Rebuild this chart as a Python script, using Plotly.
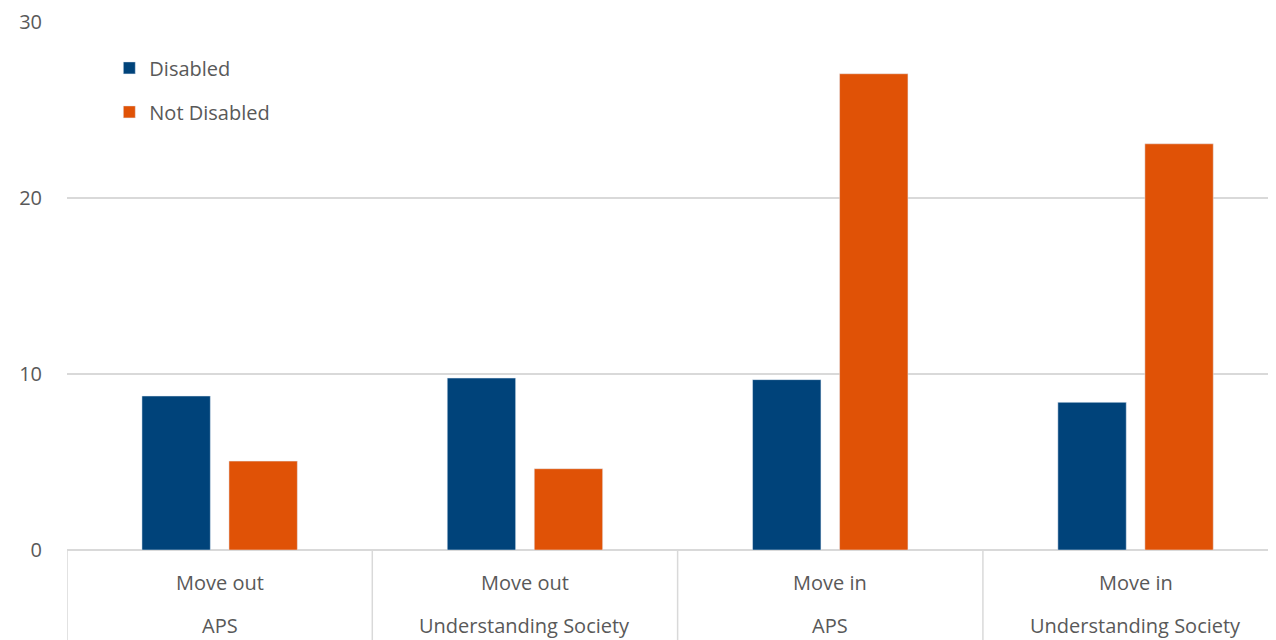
import plotly.graph_objects as go

categories_top = ["Move out", "Move out", "Move in", "Move in"]
categories_bottom = ["APS", "Understanding Society", "APS", "Understanding Society"]
disabled = [8.75, 9.77, 9.68, 8.39]
not_disabled = [5.05, 4.62, 27.06, 23.08]
y_ticks = [0, 10, 20, 30]

FONT = "Open Sans"
FS = 20
TXT = "#595959"
GRID = "#d9d9d9"

xs = list(range(len(categories_top)))

fig = go.Figure()
fig.add_trace(go.Bar(x=xs, y=disabled, name="Disabled", marker=dict(color="#00437A"),
                     legendgroup="a"))
fig.add_trace(go.Bar(x=xs, y=not_disabled, name="Not Disabled", marker=dict(color="#E05206"),
                     legendgroup="b"))

H_PLOT = 528
for i, (t, b) in enumerate(zip(categories_top, categories_bottom)):
    fig.add_annotation(x=i, y=(550 - 582) / H_PLOT, xref="x", yref="paper", text=t,
                       showarrow=False, font=dict(family=FONT, size=FS, color=TXT),
                       xanchor="center", yanchor="middle")
    fig.add_annotation(x=i, y=(550 - 625) / H_PLOT, xref="x", yref="paper", text=b,
                       showarrow=False, font=dict(family=FONT, size=FS, color=TXT),
                       xanchor="center", yanchor="middle")
for i in range(len(categories_top) + 1):
    fig.add_shape(type="line", xref="x", yref="paper", x0=i - 0.5, x1=i - 0.5,
                  y0=0, y1=-0.2, line=dict(color=GRID, width=1.5))

fig.update_layout(
    width=1268, height=632,
    margin=dict(l=59, r=0, t=14, b=90),
    plot_bgcolor="white", paper_bgcolor="white",
    barmode="group", bargap=0.43, bargroupgap=0.214,
    font=dict(family=FONT, size=FS, color=TXT),
    showlegend=True,
    legend=dict(x=0.035, y=0.95, xanchor="left", yanchor="top",
                font=dict(family=FONT, size=FS, color=TXT),
                tracegroupgap=15, bgcolor="rgba(0,0,0,0)"),
    xaxis=dict(range=[-0.5, 3.46], showticklabels=False, showgrid=False,
               zeroline=False, showline=False, ticks=""),
    yaxis=dict(range=[0, 30], tickvals=y_ticks, showgrid=True, gridcolor=GRID,
               gridwidth=1.5, zeroline=True, zerolinecolor=GRID, zerolinewidth=2,
               ticks="", ticklabelstandoff=24,
               tickfont=dict(family=FONT, size=FS, color=TXT)),
)

fig.write_html("out.html")
